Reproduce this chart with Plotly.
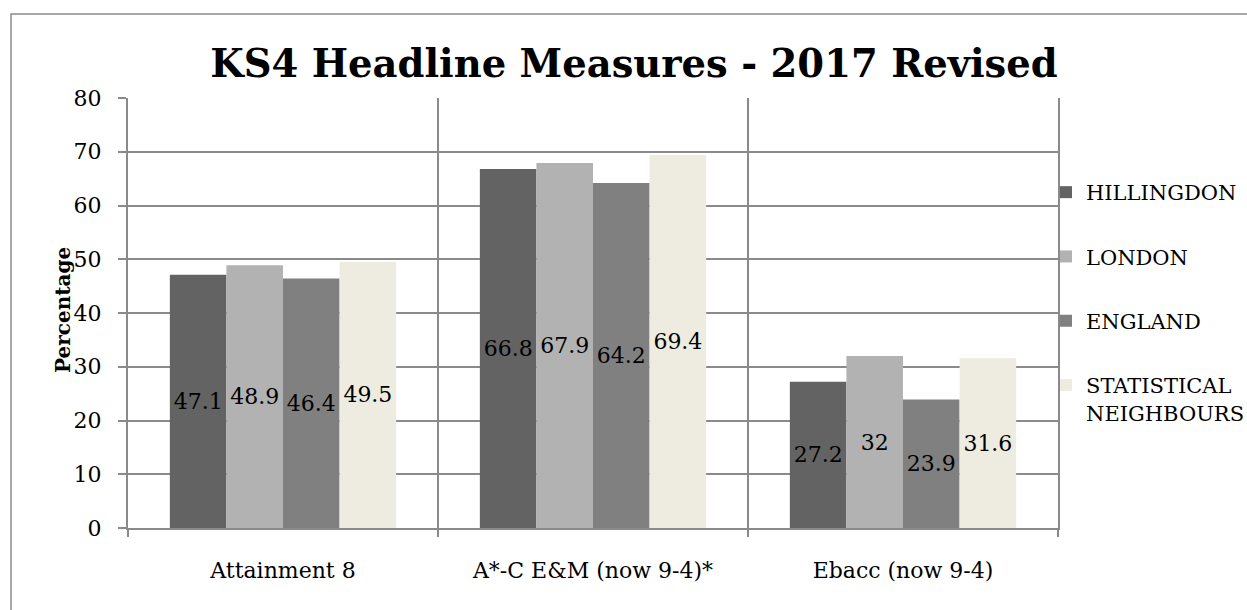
import plotly.graph_objects as go

categories = ["Attainment 8", "A*-C E&M (now 9-4)*", "Ebacc (now 9-4)"]
series_names = ["HILLINGDON", "LONDON", "ENGLAND", "STATISTICAL<br>NEIGHBOURS"]
hillingdon = [47.1, 66.8, 27.2]
london = [48.9, 67.9, 32]
england = [46.4, 64.2, 23.9]
stat_neighbours = [49.5, 69.4, 31.6]
series_values = [hillingdon, london, england, stat_neighbours]
colors = ["#636363", "#B2B2B2", "#808080", "#EEECE1"]

FONT = "DejaVu Serif"
W, H = 1247, 610
L, R, T, B = 128, 1247 - 1058, 98, 610 - 528
GRID = "#8A8A8A"

fig = go.Figure()
for i, (name, vals, col) in enumerate(zip(series_names, series_values, colors)):
    fig.add_trace(go.Bar(
        name=name, x=categories, y=vals, marker=dict(color=col, line=dict(width=0)),
        text=[f"{v:g}" for v in vals], textposition="inside", insidetextanchor="middle",
        textfont=dict(family=FONT, size=22, color="black"), legendgroup=f"g{i}",
        hoverinfo="x+y",
    ))

pw = W - L - R
ph = H - T - B
def px_x(p):
    return (p - L) / pw
def px_y(p):
    return (H - B - p) / ph

fig.update_layout(
    width=W, height=H,
    margin=dict(l=L, r=R, t=T, b=B, autoexpand=False),
    paper_bgcolor="white", plot_bgcolor="white",
    barmode="group", bargap=0.27, bargroupgap=0,
    font=dict(family=FONT, size=21, color="black"),
    title=dict(text="<b>KS4 Headline Measures - 2017 Revised</b>", x=634 / W, xanchor="center",
               y=1 - 64 / H, yanchor="middle", yref="container", xref="container",
               font=dict(family=FONT, size=38.5, color="black")),
    uniformtext=dict(minsize=22, mode="show"),
    legend=dict(x=px_x(1046), xanchor="left", y=px_y(172), yanchor="top",
                font=dict(family=FONT, size=21, color="black"), valign="top",
                tracegroupgap=34, bgcolor="rgba(0,0,0,0)"),
    xaxis=dict(type="category", tickson="boundaries", ticks="outside", ticklen=7, tickcolor=GRID,
               tickwidth=1.5, showgrid=True, gridcolor=GRID, gridwidth=1.5, showline=True,
               linecolor=GRID, linewidth=2, tickfont=dict(family=FONT, size=22),
               ticklabelstandoff=22),
    yaxis=dict(range=[0, 80], dtick=10, ticks="outside", ticklen=8, tickcolor=GRID, tickwidth=1.5,
               showgrid=True, gridcolor=GRID, gridwidth=1.5, showline=True, linecolor=GRID,
               linewidth=2, mirror=True, zeroline=False, tickfont=dict(family=FONT, size=22),
               ticklabelstandoff=12),
    annotations=[dict(text="<b>Percentage</b>", textangle=-90, xref="paper", yref="paper",
                      x=px_x(63), y=px_y(310), xanchor="center", yanchor="middle", showarrow=False,
                      font=dict(family=FONT, size=20, color="black"))],
    shapes=[dict(type="rect", xref="paper", yref="paper", x0=px_x(11), x1=px_x(1252),
                 y0=px_y(620), y1=px_y(14), line=dict(color=GRID, width=1.5), layer="below")],
)

fig.write_html("out.html")
